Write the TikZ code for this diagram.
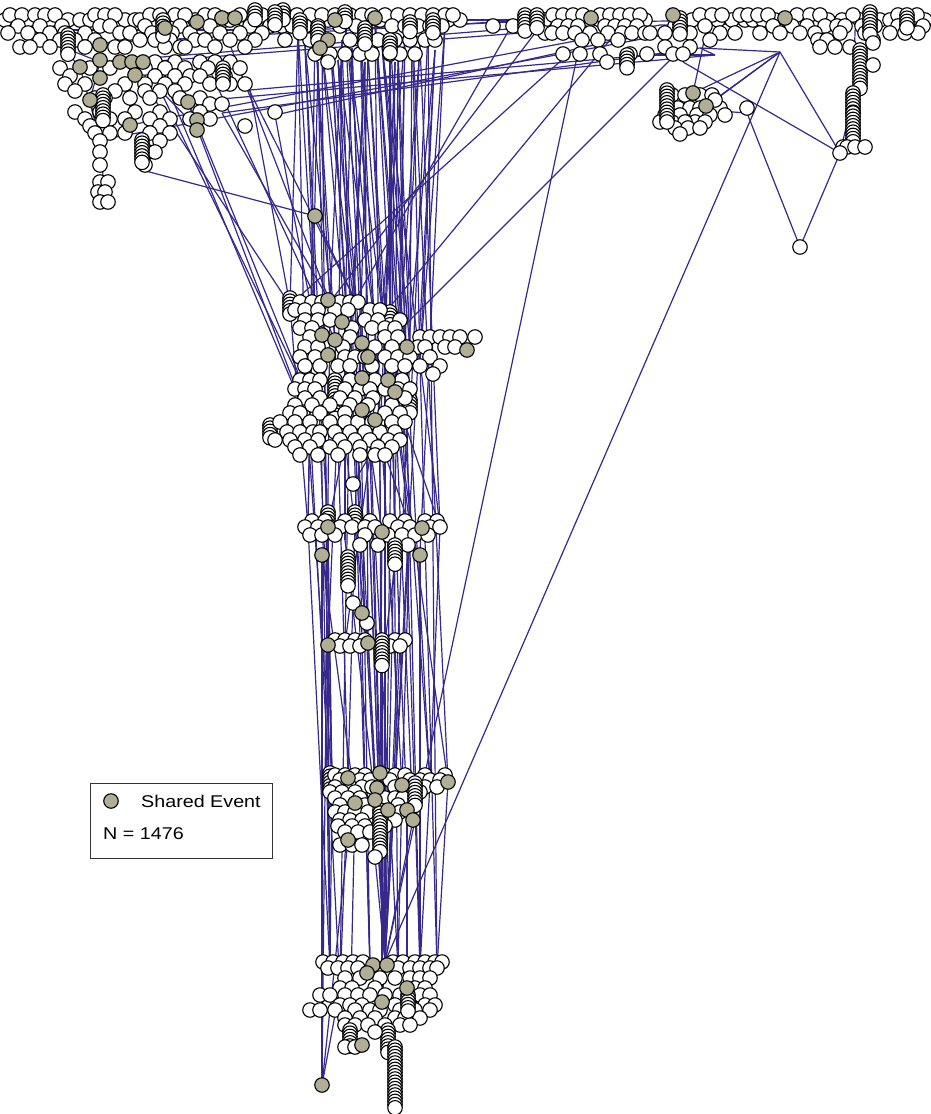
\documentclass[tikz,border=0pt]{standalone}
\usepackage{fontspec}
\setmainfont{Liberation Sans}
\usepackage{graphicx}
\definecolor{edgec}{HTML}{36298A}
\definecolor{shc}{HTML}{B0AF96}
\tikzset{
 nd/.style={circle, draw=black, fill=white, line width=1.1pt, minimum size=14.5pt, inner sep=0pt},
 sh/.style={nd, fill=shc},
 edge/.style={draw=edgec, line width=1.2pt},
 legendbox/.style={draw=black!80, line width=1.1pt, rectangle, minimum width=182pt, minimum height=75pt, anchor=north west, inner sep=0pt},
 legtext/.style={anchor=west, inner sep=0pt, font=\fontsize{17}{20}\selectfont},
}
\newcommand\nrow[3]{\foreach \xx [count=\ii] in {#3}{\node[nd] (#1-\ii) at (\xx,#2) {};}}
\newcommand\ncoil[4]{\foreach \kk in {0,...,#4}{\node[nd] (#1-\kk) at (#2,{#3+3.2*\kk}) {};}}
\newcommand\nshared[2]{\foreach \xx/\yy [count=\ii] in {#2}{\node[sh] (#1-\ii) at (\xx,\yy) {};}}
\begin{document}
\begin{tikzpicture}[x=1pt,y=-1pt]
\useasboundingbox[fill=white] (0,0) rectangle (931,1114);
% ---------- anchor coordinates ----------
\foreach \n/\x/\y in {t1/298/30, t2/305/45, t3/315/25, t4/322/50, t5/330/35, t6/338/60, t7/345/22, t8/352/48, t9/360/30, t10/368/55, t11/375/20, t12/382/45, t13/390/28, t14/398/52, t15/405/35, t16/412/22, t17/420/45, t18/428/30, t19/435/50, t20/445/25, t21/318/62, t22/365/62, t23/395/62, t24/342/40,
 c1/330/302, c2/345/320, c3/335/340, c4/360/350, c5/385/345, c6/410/348, c7/350/380, c8/390/380, c9/365/410, c10/395/395, c11/305/390, c12/310/425, c13/345/440, c14/380/440, c15/410/420, c16/320/355, c17/375/325, c18/400/330, c19/355/300, c20/370/455, c21/290/305, c22/420/362, c23/338/410, c24/400/440,
 k1/308/527, k2/328/527, k3/360/527, k4/382/532, k5/410/527, k6/440/527, k7/322/553, k8/420/553, k9/395/565, k10/355/600, k11/375/540, k12/345/540, k13/362/613,
 q1/328/645, q2/345/645, q3/368/643, q4/400/645, q5/382/665,
 p1/332/780, p2/348/778, p3/380/773, p4/402/785, p5/430/782, p6/355/803, p7/375/800, p8/407/810, p9/413/820, p10/348/840, p11/375/857, p12/365/785, p13/448/782,
 s0/385/962, s1/330/968, s2/370/968, s3/398/968, s4/420/968, s5/340/988, s6/382/1002, s7/407/988, s8/362/1045, s9/322/1085, s10/395/1107, s11/350/1030, s12/437/968,
 l1/100/62, l2/130/62, l3/80/67, l4/90/100, l5/160/90, l6/188/102, l7/197/128, l8/130/125, l9/142/170, l10/105/200, l11/275/115, l12/222/113, l13/240/72, l14/250/90, l15/160/70, l16/100/140, l17/60/45, l18/230/45, l19/20/30, l20/205/60,
 sa/315/216, sb/353/484,
 u1/495/22, u2/545/20, u3/560/30, u4/580/22, u5/620/20, u6/640/35, u7/660/25, u8/690/30, u9/700/48, u10/577/57, u11/600/52, u12/625/58, u13/647/55, u14/673/57, u15/715/55, u16/780/52, u17/760/20, u18/800/20, u19/830/28, u20/855/30, u21/880/20, u22/905/20, u23/925/22, u24/453/20, u25/513/23, u26/610/40, u27/565/57,
 r1/693/93, r2/706/106, r3/678/108, r4/715/100, r5/747/113, r6/667/115, r7/692/125, r8/840/153, r9/800/247, r10/855/90, r11/853/130, r12/707/27, r13/683/62}
 \coordinate (\n) at (\x,\y);
% ---------- connectors ----------
\foreach \a/\b in {t1/c21, t1/c11, t2/c16, t3/c1, t3/c3, t4/c2, t5/c19, t5/c7, t6/c4, t7/c17, t8/c2, t8/c9, t9/c5, t10/c8, t11/c18, t11/c10, t12/c6, t13/c15, t14/c6, t15/c18, t16/c22, t17/c10, t18/c15, t19/c24, t20/c22, t21/c12, t22/c13, t23/c14, t24/c23, t2/c3, t4/c4, t6/c17, t7/c9, t9/c14, t10/c5, t12/c15, t13/c8, t14/c10, t15/c20, t16/c6, t17/c24, t19/c22, t22/c7, t23/c5, t24/c1,
 t3/k1, t5/k3, t7/k5, t9/p3, t11/p5, t13/s3, t15/s0, t2/q1, t6/s0, t8/s0, t10/p2, t12/k6, t14/s4, t21/p1, t24/s2, t19/s0, t20/k8, t4/s1, t22/q3, t16/p13, t18/s12, t17/k6, t23/s0, t1/k2, t11/s0,
 c1/s9, c11/p1, c12/k1, c13/k2, c14/k5, c20/k3, c9/k4, c8/q4, c10/k6, c15/p5, c6/s0, c5/s0, c4/s2, c7/q2, c3/p2, c16/s1, c17/p4, c18/s4, c2/k12, c19/p12, c14/s6, c13/q3, c9/s0, c10/p9, c21/k1, c22/s12, c24/p13, c23/q1, c12/s5, c20/s0,
 k1/s1, k2/p1, k3/q2, k4/p3, k5/s0, k6/p5, k7/p6, k8/s4, k9/q5, k10/q3, k11/s3, k12/p7, k3/s0, k5/p4, k13/q3, k7/s9,
 q1/p1, q2/s5, q3/s0, q4/p8, q5/s6, q1/s1, q4/s0,
 p1/s1, p2/s5, p3/s0, p4/s3, p5/s4, p6/s11, p7/s0, p8/s7, p10/s9, p11/s0, p12/s2, p9/s0, p13/s12,
 s9/s5, s0/s6, s11/s6,
 l7/c12, l6/c11, l12/c1, l13/c19, l14/c21, l11/c16, l18/c1, l15/c12, l20/c3, l9/sa, sa/c19, l5/c11, l2/c21,
 l3/u3, l1/u5, l8/u7, l16/u8, l12/u9, l11/u6, l14/u13, l17/u2, l6/u15,
 l1/l4, l3/l16, l16/l10, l5/l7, l2/l8, l17/l3, l19/l1, l4/l16, l6/l7, l15/l6,
 u10/s0, u16/s0, u25/c19, u2/c1, u27/c21, u26/c17, u14/c18,
 u16/r1, u16/r2, u16/r8, u16/r4, r13/r8, r5/r9, r8/r9, r12/r1, r10/r8, u16/u9, r3/r5, u20/r11,
 t20/u1, u1/u4, u4/u17, u7/u23, l19/t1, t1/t20, u24/u2, u17/u22, u9/u15, u13/u15, sb/c20}
 \draw[edge] (\a) -- (\b);
% ---------- top band ----------
\nrow{tz}{20}{5,28,50,68,80,90,125,135,140,170,195,225,230,245,268,280,292,303,316,328,340,355,368,380,392,404,416,428,440,448,460,545,558,568,578,590,600,615,625,635,645,692,705,718,732,745,753,763,775,788,803,815,828,842,860,880,890,910,925}
\nrow{ta}{15}{10,22,35,45,55,95,105,115,150,160,175,185,205,215,240,262,285,297,310,322,335,350,362,372,385,398,410,422,433,445,453,553,563,573,583,600,610,620,630,640,700,712,722,740,748,758,768,797,810,820,853,898,917}
\nrow{tb}{26}{18,40,62,100,110,145,180,210,250,270,282,292,305,318,340,356,392,405,418,430,442,493,513,558,568,578,605,615,625,637,675,705,773,792,807,825,837,845,862,875,898,907,923}
\nrow{tx}{33}{8,28,50,65,85,120,130,152,172,190,220,240,262,545,552,563,575,590,608,622,632,645,650,665,690,720,735,760,780,800,815,840,865,890,905,918}
\nrow{tc}{40}{40,60,75,95,140,155,170,195,205,230,255,285,310,322,350,365,378,395,410,425,435,582,598,618,710,818,827,873}
\nrow{ty}{47}{20,30,50,85,115,125,165,180,185,215,245,665,690,820,835,850}
\nrow{td}{54}{315,330,345,360,372,390,400,415,563,580,600,630,647,673,683}
\nrow{te}{62}{155,175,200,215,230,328,607,627}
\nrow{tw}{68}{60,90,110,145,165,185,208,240}
\nrow{tf}{76}{70,155,175,190,200,225}
\nrow{tv}{84}{65,85,125,145,165,185,210,230,245}
\nrow{tg}{91}{75,115,145,160,175}
\nrow{tu}{98}{95,105,130,150,180,200}
\nrow{th}{104}{210,222}
\nrow{ti}{112}{75,100,135,160,200,275}
\nrow{tt}{119}{85,110,125,150,170,190,210}
\nrow{tj}{126}{90,160,245}
\nrow{ts}{133}{95,110,125,150,170}
\nrow{tk}{141}{100,160}
\nrow{tr}{152}{100,148,155}
\nrow{tl}{165}{100,145}
\nrow{tq}{182}{100,108}
\nrow{tp}{192}{98,105}
\nrow{tm}{202}{100,108}
\ncoil{ca}{103}{95}{8}
\ncoil{cb}{68}{35}{6}
\ncoil{cc}{142}{140}{7}
\ncoil{cd}{223}{68}{5}
\ncoil{ce}{163}{20}{5}
\ncoil{cf}{255}{10}{3}
\ncoil{cg}{283}{10}{3}
\ncoil{ch}{275}{12}{4}
\ncoil{ci}{345}{12}{3}
\ncoil{cj}{300}{20}{4}
\ncoil{ck}{318}{28}{4}
\ncoil{cl}{365}{28}{5}
\ncoil{cm}{390}{40}{4}
\ncoil{cn}{410}{22}{3}
\ncoil{co}{433}{20}{4}
\ncoil{cp}{525}{15}{5}
\ncoil{cq}{537}{15}{4}
\ncoil{cr}{680}{18}{5}
\ncoil{cs}{870}{12}{7}
\ncoil{ct}{907}{15}{4}
\ncoil{cu}{627}{55}{4}
% ---------- right group ----------
\nrow{rj}{95}{672,685,700,712}
\nrow{ra}{108}{678,690,700,713,720,747}
\nrow{rk}{115}{665,680,697,710,725}
\nrow{rb}{122}{660,672,695,705,685}
\nrow{rl}{128}{675,688,700}
\node[nd] (rc) at (715,100) {};
\node[nd] (rd) at (680,134) {};
\ncoil{rcoil}{667}{90}{10}
\ncoil{rcoilb}{860}{50}{12}
\ncoil{rcoilc}{853}{93}{6}
\ncoil{rcoild}{853}{113}{9}
\nrow{re}{147}{843,847,855,865}
\node[nd] (rf) at (840,153) {};
\node[nd] (rg) at (873,43) {};
\node[nd] (rh) at (873,65) {};
\node[nd] (ri) at (800,247) {};
% ---------- middle cluster ----------
\ncoil{mca}{290}{298}{5}
\ncoil{mcb}{335}{380}{12}
\ncoil{mcc}{390}{312}{4}
\ncoil{mcd}{270}{425}{4}
\ncoil{mce}{300}{420}{5}
\ncoil{mcf}{410}{400}{4}
\nrow{ma}{302}{300,312,322,340,350,358}
\nrow{mk}{310}{295,305,318,335,348,370,380}
\nrow{mb}{320}{305,318,330,365,378,400}
\nrow{ml}{328}{300,312,352,372,385,395}
\nrow{mc}{337}{310,350,385,398,420,430,440,450,460,475}
\nrow{mm}{347}{305,318,343,375,392,418,425,445,455}
\nrow{md}{357}{300,315,345,355,365,385,398,410,430}
\nrow{mn}{366}{305,320,338,350,372,392,405,420,440}
\nrow{me}{374}{433}
\nrow{mf}{380}{300,310,320,350,375,402}
\nrow{mo}{389}{295,305,315,345,360,370,385,398,410}
\nrow{mg}{398}{305,320,340,355,373,405}
\nrow{mp}{405}{295,312,330,350,368,392}
\nrow{mh}{413}{290,300,320,345,385,400}
\nrow{mq}{422}{280,295,310,330,345,358,372,392,405}
\nrow{mi}{432}{287,300,313,320,335,350,365,380,395}
\nrow{mr}{440}{275,290,305,318,340,355,370,388,400}
\nrow{mj}{447}{295,310,330,345,360,378,392}
\nrow{ms}{455}{300,318,338,360,375,385}
\node[nd] (lone) at (353,484) {};
% ---------- cluster 3 and 4 ----------
\ncoil{kca}{328}{512}{4}
\ncoil{kcb}{355}{512}{4}
\nrow{ke}{521}{312,325,345,370,390,405,425,437}
\nrow{ka}{527}{305,318,340,352,365,375,398,410,430,440}
\nrow{kf}{535}{310,322,335,365,388,402,415,428}
\nrow{kb}{545}{360,378,408}
\ncoil{kcc}{348}{557}{9}
\ncoil{kcd}{395}{545}{6}
\node[nd] (kc) at (353,603) {};
\node[nd] (kd) at (367,623) {};
\nrow{qb}{640}{335,345,355,365,395,405}
\nrow{qa}{646}{340,350,360,390,400}
\ncoil{qcoil}{382}{640}{8}
% ---------- cluster 5 ----------
\ncoil{pca}{330}{773}{5}
\nrow{pg}{775}{335,345,355,365,385,395,405,425,445}
\nrow{pa}{780}{340,360,370,390,410,420,430,440}
\nrow{ph}{787}{335,350,362,372,395,405,415,425,437}
\nrow{pb}{792}{330,342,355,420}
\nrow{pi}{798}{335,348,360,385,395,403}
\nrow{pc}{805}{340,365,398}
\nrow{pj}{812}{335,345,355,368,400}
\nrow{pd}{820}{340,350,362,395}
\nrow{pk}{826}{338,352,365,385}
\nrow{pe}{832}{345,358,370}
\nrow{pl}{845}{340,352,362}
\ncoil{pcb}{380}{810}{13}
\ncoil{pcc}{415}{783}{7}
\node[nd] (pf) at (375,857) {};
% ---------- cluster 6 ----------
\nrow{sg}{962}{323,333,343,353,363,393,403,415,425,435,442}
\nrow{sa}{968}{328,338,348,358,398,410,420,430,437}
\nrow{sh}{978}{345,360,380,395,410,420,430}
\nrow{sb}{988}{340,352,375,415,425}
\nrow{si}{995}{320,330,345,358,370,385,400,420,430}
\nrow{sc}{1005}{340,350,362,395,410,425,435}
\nrow{sj}{1010}{310,320,335,355,370,380,400,415,430}
\nrow{sd}{1018}{345,360,375,395,405,420}
\nrow{sk}{1025}{345,355,368,385,400,410}
\ncoil{sca}{408}{995}{5}
\ncoil{scb}{350}{1030}{5}
\ncoil{scc}{388}{1030}{7}
\ncoil{scd}{395}{1047}{19}
\nrow{se}{1047}{345,355}
\node[nd] (sf) at (375,1032) {};
% ---------- shared events ----------
\nshared{shev}{165/28,197/22,222/18,235/18,80/67,100/60,100/45,100/78,120/62,132/62,143/62,135/75,90/100,130/125,188/102,197/120,197/130,335/20,375/18,328/40,320/48,591/18,673/15,785/18,693/93,706/106,315/216,
 328/300,342/322,322/335,335/340,362/343,368/357,407/347,467/350,328/355,362/378,388/380,395/392,362/410,375/420,
 328/527,382/532,422/528,322/555,420/555,362/613,328/645,368/643,
 348/778,380/773,402/785,448/782,377/788,355/803,375/800,388/810,407/810,413/820,348/840,
 373/965,387/965,367/973,407/988,382/1002,362/1045,322/1085}
% ---------- legend ----------
\node[legendbox] (legend) at (90,783) {};
\node[sh] (legdot) at (111,801) {};
\node[legtext] (legshared) at (141,801) {\scalebox{1.16}[1]{Shared Event}};
\node[legtext] (legn) at (103,834) {\scalebox{1.16}[1]{N = 1476}};
\end{tikzpicture}
\end{document}
